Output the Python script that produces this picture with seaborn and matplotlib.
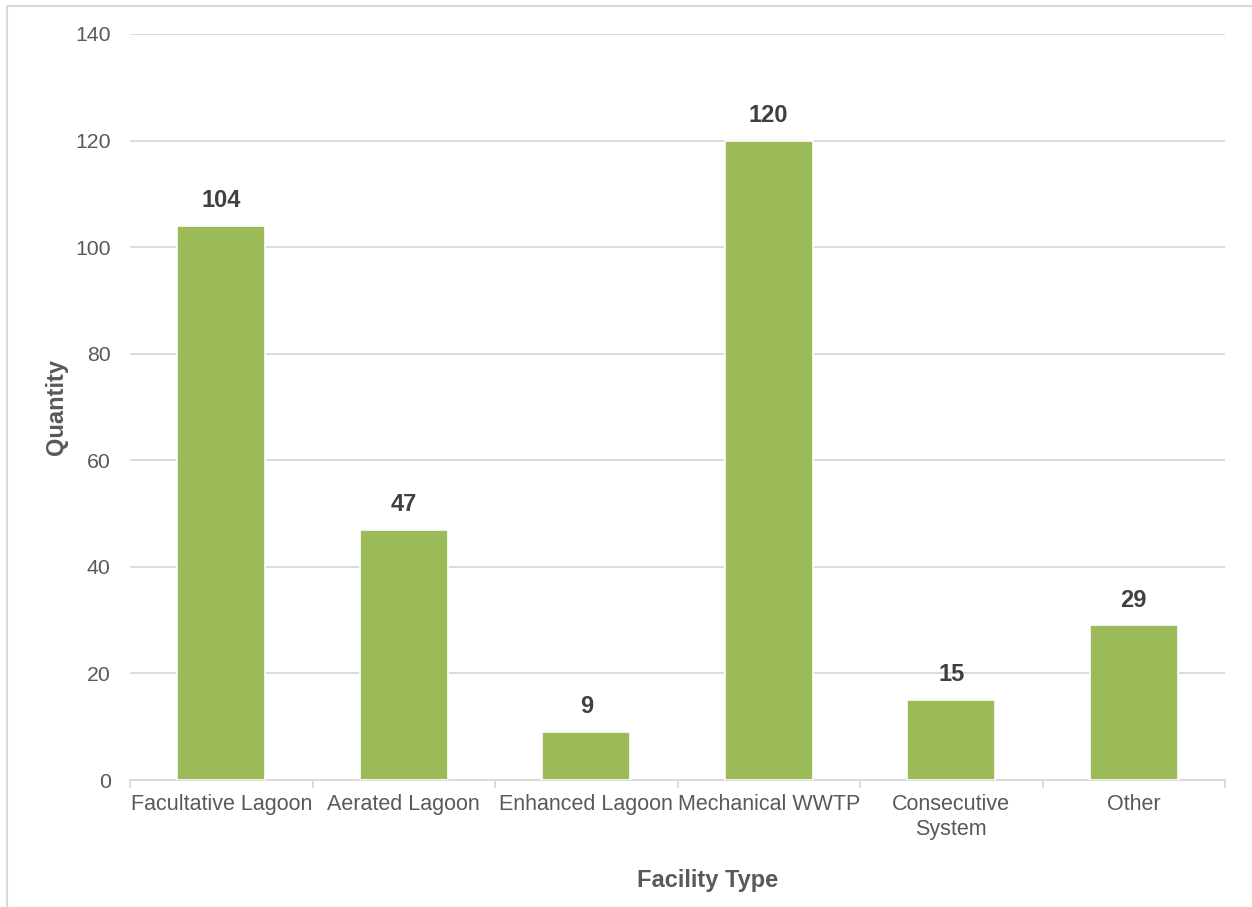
import matplotlib
matplotlib.use("Agg")
import matplotlib.pyplot as plt
import seaborn as sns
import pandas as pd
from matplotlib.lines import Line2D
from matplotlib.ticker import FixedLocator

categories = ["Facultative Lagoon", "Aerated Lagoon", "Enhanced Lagoon",
              "Mechanical WWTP", "Consecutive\nSystem", "Other"]
values = [104, 47, 9, 120, 15, 29]
yticks = [0, 20, 40, 60, 80, 100, 120, 140]

sns.set_theme(style="white")
plt.rcParams['font.family'] = ['Liberation Sans', 'DejaVu Sans']

df = pd.DataFrame({"Facility Type": categories, "Quantity": values})

fig = plt.figure(figsize=(12.52, 9.07), dpi=100)
ax = fig.add_axes([130/1252, 1-780/907, (1225-130)/1252, (780-34)/907])

sns.barplot(data=df, x="Facility Type", y="Quantity", color="#9BBB59",
            saturation=1, width=0.48, edgecolor="white", linewidth=1.2, ax=ax, zorder=3)

ax.set_ylim(0, 140)
ax.set_xlim(-0.5, len(categories) - 0.5)
ax.set_yticks(yticks)
ax.yaxis.grid(True, color="#D9D9D9", linewidth=1.3, zorder=0)
ax.set_axisbelow(True)
for s in ["top", "right", "left"]:
    ax.spines[s].set_visible(False)
ax.spines["bottom"].set_color("#D9D9D9")
ax.spines["bottom"].set_linewidth(1.3)

ax.tick_params(axis="y", length=0, labelsize=15.3, labelcolor="#595959", pad=14)
ax.tick_params(axis="x", length=0, labelsize=15.5, labelcolor="#595959", pad=10)
ax.set_xticks(range(len(categories)))
ax.set_xticklabels(categories, linespacing=1.25)

ax.xaxis.set_minor_locator(FixedLocator([i - 0.5 for i in range(len(categories) + 1)]))
ax.tick_params(axis="x", which="minor", bottom=True, length=6, width=1.3,
               color="#D9D9D9", direction="out")

for i, v in enumerate(values):
    ax.annotate(str(v), (i, v), xytext=(0, 10), textcoords="offset points",
                ha="center", va="bottom", fontsize=17, fontweight="bold", color="#404040")

ax.set_xlabel("Facility Type", fontsize=17, fontweight="bold", color="#595959", labelpad=24)
ax.xaxis.set_label_coords((708 - 130) / 1095, -(881 - 780) / 746, transform=ax.transAxes)
ax.xaxis.label.set_va("center")
ax.set_ylabel("Quantity", fontsize=17, fontweight="bold", color="#595959", labelpad=5)

# light frame at left/top of figure
fig.add_artist(Line2D([6.5/1252, 6.5/1252], [0, 1-5.5/907], transform=fig.transFigure,
                      color="#D9D9D9", linewidth=1.5))
fig.add_artist(Line2D([6.5/1252, 1], [1-5.5/907, 1-5.5/907], transform=fig.transFigure,
                      color="#D9D9D9", linewidth=1.5))

fig.savefig("out.png", dpi=100)
